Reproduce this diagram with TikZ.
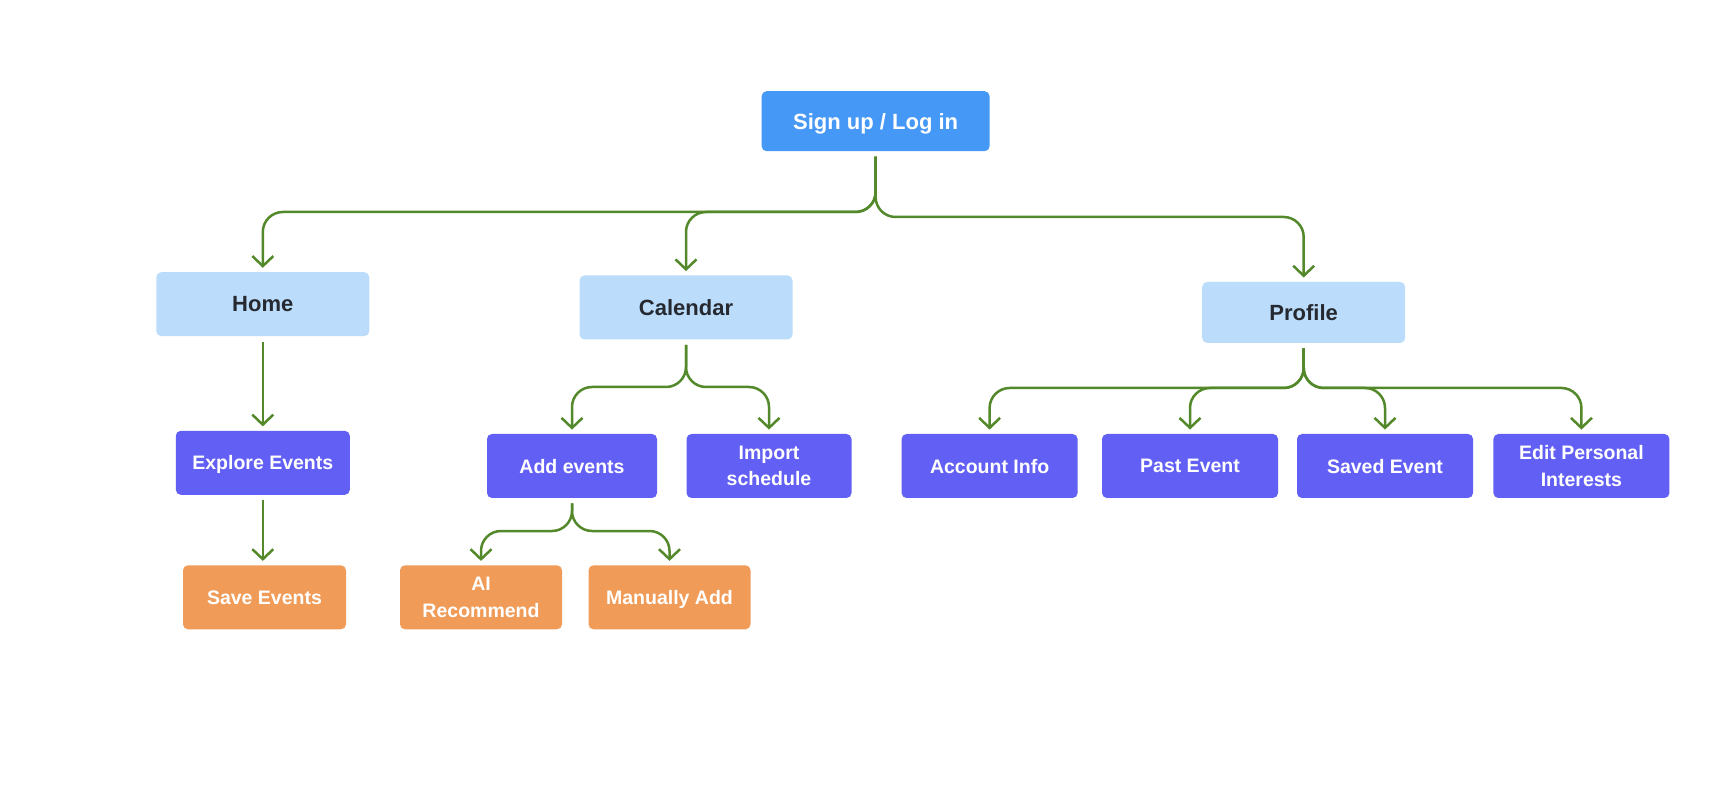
\documentclass[tikz,border=0pt]{standalone}
\usepackage{fontspec}
\setmainfont{Liberation Sans}
\usetikzlibrary{arrows.meta}
\definecolor{topblue}{RGB}{70,152,247}
\definecolor{lightblue}{RGB}{187,220,251}
\definecolor{purp}{RGB}{98,95,245}
\definecolor{orng}{RGB}{240,155,87}
\definecolor{lgreen}{RGB}{83,137,43}
\definecolor{darktext}{RGB}{38,42,48}
\begin{document}
\begin{tikzpicture}[x=0.5pt,y=-0.5pt,
  box/.style={rounded corners=2.5pt, align=center, inner sep=0pt, font=\bfseries},
  oneline/.style={text depth=0pt},
  lvlone/.style={box, fill=topblue, text=white, minimum width=114pt, minimum height=30pt, font=\bfseries\fontsize{11}{13}\selectfont},
  lvltwo/.style={box, fill=lightblue, text=darktext, minimum width=106.5pt, minimum height=32pt, font=\bfseries\fontsize{11}{13}\selectfont},
  lvlthree/.style={box, fill=purp, text=white, minimum width=88pt, minimum height=32pt, font=\bfseries\fontsize{9.75}{13.2}\selectfont},
  lvlfour/.style={box, fill=orng, text=white, minimum width=81pt, minimum height=32pt, font=\bfseries\fontsize{9.75}{13.2}\selectfont},
  conn/.style={draw=lgreen, line width=1.25pt, rounded corners=10pt, shorten <=2.5pt, shorten >=2pt,
    -{Straight Barb[length=5pt,width=10.5pt,line width=1.25pt]}}
]
\fill[white] (0,0) rectangle (1728,785);
\useasboundingbox (0,0) rectangle (1728,785);

\node[lvlone, oneline] (signup) at (875.6,121.2) {Sign up / Log in};

\node[lvltwo, oneline] (home) at (262.8,304.2) {Home};
\node[lvltwo, oneline] (calendar) at (686,307.5) {Calendar};
\node[lvltwo, oneline, minimum width=101.5pt, minimum height=30.5pt] (profile) at (1303.7,312.4) {Profile};

\node[lvlthree, oneline, minimum width=87pt] (explore) at (262.8,462.8) {Explore Events};
\node[lvlfour, oneline, minimum width=81.5pt] (save) at (264.5,597.3) {Save Events};

\node[lvlthree, oneline, minimum width=85pt] (addev) at (572,466) {Add events};
\node[lvlthree, minimum width=82.5pt] (import) at (769,466) {Import\\schedule};
\node[lvlfour] (ai) at (481,597.3) {AI\\Recommend};
\node[lvlfour, oneline] (manual) at (669.5,597.3) {Manually Add};

\node[lvlthree, oneline] (account) at (989.6,466) {Account Info};
\node[lvlthree, oneline] (past) at (1190,466) {Past Event};
\node[lvlthree, oneline] (saved) at (1385,466) {Saved Event};
\node[lvlthree] (edit) at (1581.4,466) {Edit Personal\\Interests};

\coordinate (jA) at (0,212);
\coordinate (jB) at (0,217);
\coordinate (jC) at (0,387);
\coordinate (jD) at (0,531);
\coordinate (jE) at (0,388);

\draw[conn] (signup.south) -- (signup.south |- jA) -| (home.north);
\draw[conn] (signup.south) -- (signup.south |- jA) -| (calendar.north);
\draw[conn] (signup.south) -- (signup.south |- jB) -| (profile.north);

\draw[conn] (home.south) -- (explore.north);
\draw[conn] (explore.south) -- (explore.south |- save.north);

\draw[conn] (calendar.south) -- (calendar.south |- jC) -| (addev.north);
\draw[conn] (calendar.south) -- (calendar.south |- jC) -| (import.north);

\draw[conn] (addev.south) -- (addev.south |- jD) -| (ai.north);
\draw[conn] (addev.south) -- (addev.south |- jD) -| (manual.north);

\draw[conn] (profile.south) -- (profile.south |- jE) -| (account.north);
\draw[conn] (profile.south) -- (profile.south |- jE) -| (past.north);
\draw[conn] (profile.south) -- (profile.south |- jE) -| (saved.north);
\draw[conn] (profile.south) -- (profile.south |- jE) -| (edit.north);
\end{tikzpicture}
\end{document}
